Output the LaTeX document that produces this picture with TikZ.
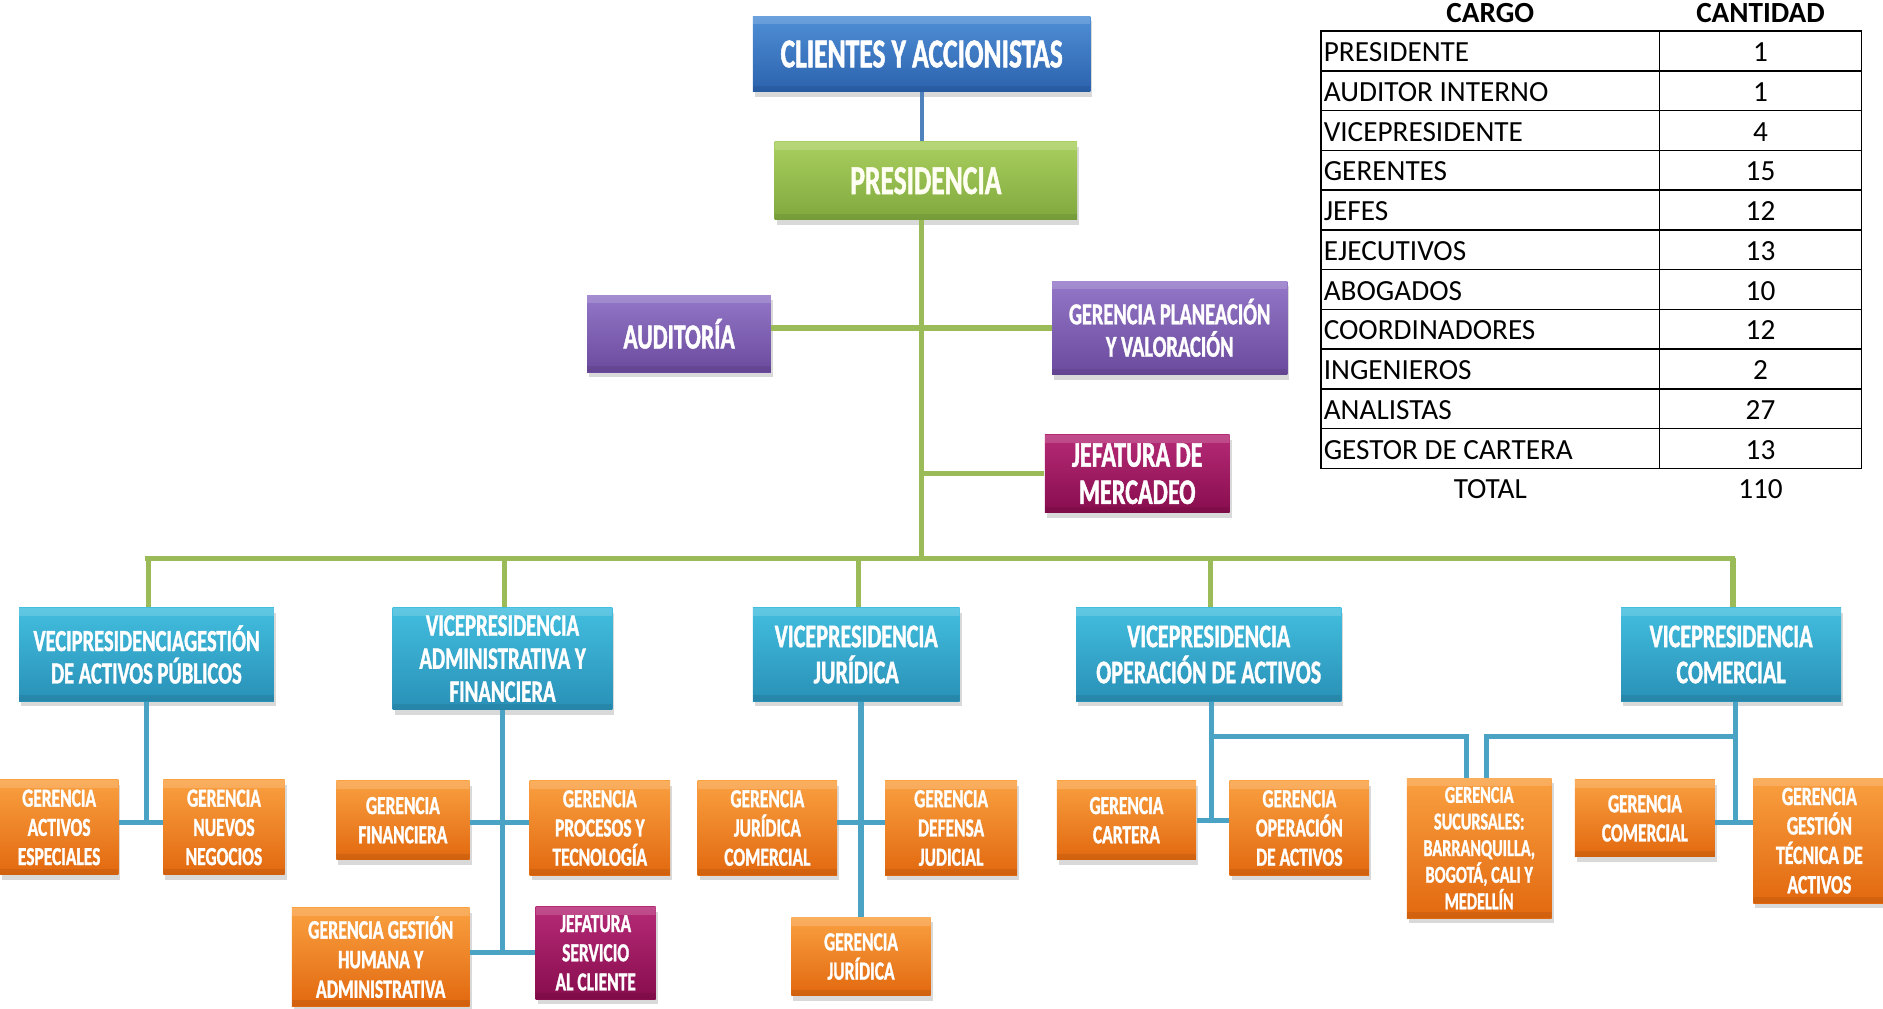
\documentclass[tikz,border=0pt]{standalone}
\usepackage{fontspec}
\setmainfont{Carlito}
\newfontfamily\boxfont[FakeStretch=0.67,FakeBold=1.2]{Carlito}
\usetikzlibrary{shadows}
\definecolor{tbA}{HTML}{4F8FD6}\definecolor{tbB}{HTML}{2B62AD}
\definecolor{grA}{HTML}{A9CF5E}\definecolor{grB}{HTML}{7FA83D}
\definecolor{puA}{HTML}{9477C8}\definecolor{puB}{HTML}{6A4A9C}
\definecolor{mgA}{HTML}{B52A76}\definecolor{mgB}{HTML}{880D4E}
\definecolor{vpA}{HTML}{42BEDF}\definecolor{vpB}{HTML}{2990B6}
\definecolor{orA}{HTML}{F9A040}\definecolor{orB}{HTML}{E2680F}
\definecolor{glc}{HTML}{9BBB59}\definecolor{blc}{HTML}{4AA3C4}\definecolor{dbl}{HTML}{4F81BD}
\begin{document}
\begin{tikzpicture}[x=0.6pt,y=-0.6pt,
  sz/.style 2 args={minimum width=#1*0.6pt, minimum height=#2*0.6pt},
  fs/.style 2 args={font=\boxfont\bfseries\fontsize{#1}{#2}\selectfont},
  bevel/.style={path picture={\fill[white,opacity=0.16] (path picture bounding box.north west) rectangle ([yshift=-4pt]path picture bounding box.north east);
     \fill[black,opacity=0.07] (path picture bounding box.south west) rectangle ([yshift=3pt]path picture bounding box.south east);}},
  box/.style={inner sep=1pt, align=center, text=white, bevel,
     drop shadow={shadow xshift=1pt, shadow yshift=-2.5pt, opacity=0.3}},
  topbox/.style={box, top color=tbA, bottom color=tbB},
  presbox/.style={box, top color=grA, bottom color=grB, text=white!95!yellow},
  purbox/.style={box, top color=puA, bottom color=puB},
  magbox/.style={box, top color=mgA, bottom color=mgB},
  vpbox/.style={box, top color=vpA, bottom color=vpB},
  orbox/.style={box, top color=orA, bottom color=orB, fs={13}{14.6}},
  gl/.style={draw=glc, line width=2.7pt},
  bl/.style={draw=blc, line width=2.6pt},
  tabl/.style={anchor=west, inner sep=0pt, font=\fontsize{14.6}{16}\selectfont},
  tabn/.style={inner sep=0pt, font=\fontsize{14.6}{16}\selectfont},
  tbline/.style={draw=black, line width=0.8pt}]
\useasboundingbox (0,0) rectangle (1568,840);

% helper rows
\coordinate (bus) at (767.5,465);
\coordinate (r613) at (0,613);
\coordinate (r683) at (0,683);
\coordinate (r685) at (0,685);
\coordinate (r793) at (0,793);

% top
\node[topbox, sz={281}{63}, fs={20.5}{22}] (cli) at (767.5,45) {CLIENTES Y ACCIONISTAS};
\node[presbox, sz={252}{65}, fs={20.5}{22}] (pres) at (771,150.5) {PRESIDENCIA};
\node[purbox, sz={153}{64}, fs={17.6}{19}] (aud) at (565.5,278) {AUDITORÍA};
\node[purbox, sz={196}{78}, fs={15.2}{16.2}] (plan) at (974,273) {GERENCIA PLANEACIÓN\\Y VALORACIÓN};
\node[magbox, sz={154}{65}, fs={18}{18.6}] (merc) at (947,394.5) {JEFATURA DE\\MERCADEO};

% vice presidencies
\node[vpbox, sz={212}{78}, fs={15.3}{16.2}] (vp1) at (122,545) {VECIPRESIDENCIAGESTIÓN\\DE ACTIVOS PÚBLICOS};
\node[vpbox, sz={183}{85}, fs={15.5}{16.5}] (vp2) at (418.5,548.5) {VICEPRESIDENCIA\\ADMINISTRATIVA Y\\FINANCIERA};
\node[vpbox, sz={172}{78}, fs={16.5}{18}] (vp3) at (713,545) {VICEPRESIDENCIA\\JURÍDICA};
\node[vpbox, sz={221}{78}, fs={16.5}{18}] (vp4) at (1006.5,545) {VICEPRESIDENCIA\\OPERACIÓN DE ACTIVOS};
\node[vpbox, sz={183}{78}, fs={16.5}{18}] (vp5) at (1441.5,545) {VICEPRESIDENCIA\\COMERCIAL};

% gerencias
\node[orbox, sz={98.5}{79}] (oesp) at (49.25,689) {GERENCIA\\ACTIVOS\\ESPECIALES};
\node[orbox, sz={101}{79}] (onue) at (186.5,689) {GERENCIA\\NUEVOS\\NEGOCIOS};
\node[orbox, sz={111}{66}] (ofin) at (335.5,683) {GERENCIA\\FINANCIERA};
\node[orbox, sz={117}{79}] (opro) at (499.5,689.5) {GERENCIA\\PROCESOS Y\\TECNOLOGÍA};
\node[orbox, sz={148}{82}, fs={13.3}{14.8}] (ohum) at (317,797) {GERENCIA GESTIÓN\\HUMANA Y\\ADMINISTRATIVA};
\node[magbox, sz={100}{77}, fs={13}{14.6}] (jserv) at (496,793.5) {JEFATURA\\SERVICIO\\AL CLIENTE};
\node[orbox, sz={116}{79}] (ojco) at (639,689.5) {GERENCIA\\JURÍDICA\\COMERCIAL};
\node[orbox, sz={110}{79}] (odef) at (792,689.5) {GERENCIA\\DEFENSA\\JUDICIAL};
\node[orbox, sz={116}{65}] (ojur) at (717,796.5) {GERENCIA\\JURÍDICA};
\node[orbox, sz={116}{66}] (ocar) at (938,683) {GERENCIA\\CARTERA};
\node[orbox, sz={116}{79}] (oope) at (1082,689.5) {GERENCIA\\OPERACIÓN\\DE ACTIVOS};
\node[orbox, sz={120.5}{116.5}, fs={12.1}{13.3}] (osuc) at (1231.75,706.25) {GERENCIA\\SUCURSALES:\\BARRANQUILLA,\\BOGOTÁ, CALI Y\\MEDELLÍN};
\node[orbox, sz={116.5}{64}] (ocom) at (1369.75,681.5) {GERENCIA\\COMERCIAL};
\node[orbox, sz={110}{104}, fs={13.2}{14.7}] (otec) at (1515,700) {GERENCIA\\GESTIÓN\\TÉCNICA DE\\ACTIVOS};

% connectors
\draw[draw=dbl, line width=2pt] (cli.south) -- (pres.north -| cli.south);
\draw[gl] (pres.south -| cli.south) -- (bus);
\draw[gl] (aud.east |- plan.west) -- (plan.west);
\draw[gl] (merc.west) -- (merc.west -| bus);
\draw[gl] ([xshift=-1pt]vp1.north |- bus) -- ([xshift=2pt]vp5.north |- bus);
\foreach \v in {vp1,vp2,vp3,vp4,vp5} {\draw[gl] ([xshift=1pt]\v.north |- bus) -- ([xshift=1pt]\v.north);}

\draw[bl] (vp1.south) -- (vp1.south |- r685);
\draw[bl] (oesp.east |- r685) -- (onue.west |- r685);

\draw[bl] (vp2.south) -- (vp2.south |- r793);
\draw[bl] (ofin.east |- r685) -- (opro.west |- r685);
\draw[bl] (ohum.east |- r793) -- (jserv.west |- r793);

\draw[bl] (vp3.south -| ojur.north) -- (ojur.north);
\draw[bl] (ojco.east |- r685) -- (odef.west |- r685);

\draw[bl] ([xshift=1.5pt]vp4.south) -- ([xshift=1.5pt]vp4.south |- r683);
\draw[bl] (ocar.east |- r683) -- (oope.west |- r683);
\draw[bl] ([xshift=1.5pt]vp4.south |- r613) -| ([xshift=-6.4pt]osuc.north);

\draw[bl] ([xshift=2pt]vp5.south) -- ([xshift=2pt]vp5.south |- r685);
\draw[bl] (ocom.east |- r685) -- (otec.west |- r685);
\draw[bl] ([xshift=2pt]vp5.south |- r613) -| ([xshift=3.8pt]osuc.north);

% table
\node[inner sep=0pt, font=\bfseries\fontsize{14.6}{16}\selectfont] (hcargo) at (1241,11) {CARGO};
\node[inner sep=0pt, font=\bfseries\fontsize{14.6}{16}\selectfont] (hcant) at (1466,11) {CANTIDAD};
\draw[tbline] (1100,26) rectangle (1550,390);
\draw[tbline] (1382,26) -- (1382,390);
\foreach \k in {1,...,10} {\draw[tbline] (1100,{26+33.09*\k}) -- (1550,{26+33.09*\k});}
\foreach \lab/\num [count=\i] in {PRESIDENTE/1, AUDITOR INTERNO/1, VICEPRESIDENTE/4, GERENTES/15, JEFES/12, EJECUTIVOS/13, ABOGADOS/10, COORDINADORES/12, INGENIEROS/2, ANALISTAS/27, GESTOR DE CARTERA/13} {
  \node[tabl] (c\i) at (1102,{26+33.09*(\i-0.5)+1}) {\lab};
  \node[tabn] (n\i) at (1466,{26+33.09*(\i-0.5)+1}) {\num};
}
\node[tabn] (ctot) at (1241,407) {TOTAL};
\node[tabn] (ntot) at (1466,407) {110};
\end{tikzpicture}
\end{document}
